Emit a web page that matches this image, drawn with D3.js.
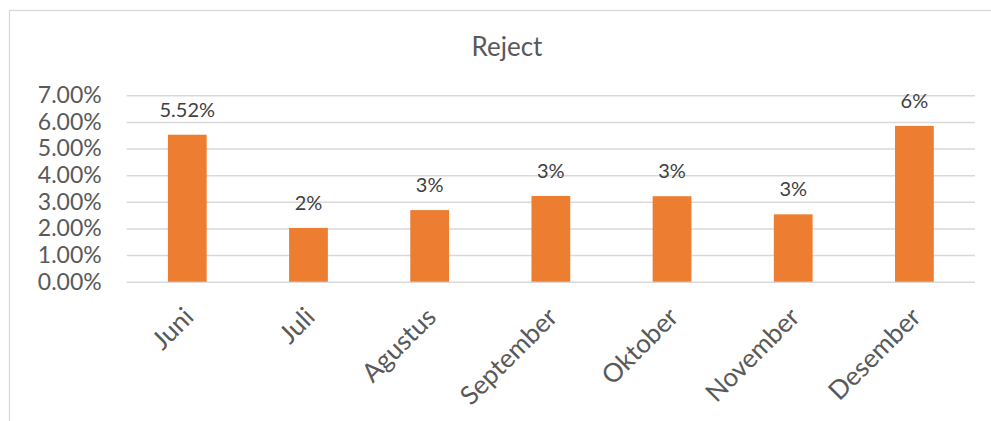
<!DOCTYPE html>
<html><head><meta charset="utf-8">
<script src="https://cdn.jsdelivr.net/npm/d3@7"></script>
<style>body{margin:0;background:#fff}svg{display:block}</style>
</head><body>
<script>
const categories = ["Juni","Juli","Agustus","September","Oktober","November","Desember"];
const values = [5.52, 2.02, 2.69, 3.22, 3.21, 2.53, 5.85];
const labels = ["5.52%","2%","3%","3%","3%","3%","6%"];
const yTicks = [0,1,2,3,4,5,6,7];
const title = "Reject";

const W = 991, H = 421;
const svg = d3.select("body").append("svg").attr("width", W).attr("height", H);
svg.append("rect").attr("x",9.5).attr("y",10.5).attr("width",1000).attr("height",420)
  .attr("fill","#fff").attr("stroke","#d9d9d9").attr("stroke-width",1.3);

const m = {left:126.7, right:975, top:95.3, bottom:281.7};
const x = d3.scaleBand().domain(categories).range([m.left, m.right]).paddingInner(0.68).paddingOuter(0.34);
const y = d3.scaleLinear().domain([0,7]).range([m.bottom, m.top]);

svg.append("text").attr("x", 507).attr("y", 56).attr("text-anchor","middle")
  .attr("font-family","Lato").attr("font-size",26).attr("fill","#595959").text(title);

const yAxis = d3.axisLeft(y).tickValues(yTicks).tickSize(-(m.right-m.left)).tickFormat(d => d.toFixed(2)+"%");
const gy = svg.append("g").attr("transform",`translate(${m.left},0)`).call(yAxis);
gy.select(".domain").remove();
gy.selectAll(".tick line").attr("stroke","#d9d9d9").attr("stroke-width",1.5);
gy.selectAll(".tick text").attr("x",-25).attr("font-family","Lato").attr("font-size",23).attr("fill","#595959");

svg.selectAll("rect.bar").data(values).join("rect").attr("class","bar")
  .attr("x",(d,i)=>x(categories[i])).attr("width",x.bandwidth())
  .attr("y",d=>y(d)).attr("height",d=>y(0)-y(d)).attr("fill","#ed7d31");

svg.selectAll("text.lbl").data(values).join("text").attr("class","lbl")
  .attr("x",(d,i)=>x(categories[i])+x.bandwidth()/2).attr("y",d=>y(d)-18)
  .attr("text-anchor","middle").attr("font-family","Lato").attr("font-size",20).attr("fill","#404040")
  .text((d,i)=>labels[i]);

const xAxis = d3.axisBottom(x).tickSize(0);
const gx = svg.append("g").attr("transform",`translate(0,${m.bottom})`).call(xAxis);
gx.select(".domain").remove();
gx.selectAll(".tick text").attr("text-anchor","end").attr("font-family","Lato").attr("font-size",26).attr("fill","#595959")
  .attr("dy",0).attr("y",0).attr("transform","translate(8,37) rotate(-45)");
</script>
</body></html>
